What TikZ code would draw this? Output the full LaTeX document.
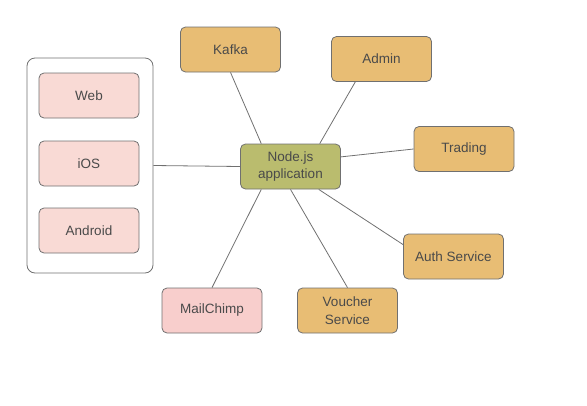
\documentclass[tikz,border=0pt]{standalone}
\usepackage{fontspec}
\setmainfont{Liberation Sans}
\usetikzlibrary{calc}

\definecolor{boxorange}{HTML}{E8BD74}
\definecolor{boxpink}{HTML}{F9DAD5}
\definecolor{mailpink}{HTML}{F8CECC}
\definecolor{appolive}{HTML}{BABC6E}
\definecolor{edgegray}{HTML}{707070}
\definecolor{textgray}{HTML}{4A4A4A}

\tikzset{
	box/.style={draw=edgegray, line width=0.8pt, rounded corners=5pt,
		minimum width=100pt, minimum height=45pt, align=center,
		text=textgray, font=\fontsize{13.5}{17.5}\selectfont},
	service/.style={box, fill=boxorange},
	client/.style={box, fill=boxpink},
	link/.style={draw=edgegray, line width=0.8pt}
}

\begin{document}
\begin{tikzpicture}[x=1pt,y=-1pt]
		\useasboundingbox (0,0) rectangle (587,405);
		\node[draw=edgegray, line width=0.8pt, rounded corners=8pt,
			minimum width=126pt, minimum height=215pt] (clients) at (90,165.5) {};
		\node[client] (web) at (89,95.5) {Web};
		\node[client] (ios) at (89,163.5) {iOS};
		\node[client] (android) at (89,230.5) {Android};
		\node[box, fill=appolive] (app) at (290.5,166.5) {Node.js\\application};
		\node[service] (kafka) at (230.5,49.5) {Kafka};
		\node[service] (admin) at (381.5,59) {Admin};
		\node[service] (trading) at (464,149) {Trading};
		\node[service] (auth) at (453.5,256.5) {Auth Service};
		\node[service] (voucher) at (347.5,310.5) {Voucher\\Service};
		\node[box, fill=mailpink] (mailchimp) at (212,310.5) {MailChimp};
		\draw[link] (clients.east) -- (app.west);
		\draw[link] (kafka.south) -- ($(app.north west)!0.21!(app.north east)$);
		\draw[link] ($(admin.south west)!0.24!(admin.south east)$) -- ($(app.north west)!0.79!(app.north east)$);
		\draw[link] (trading.west) -- ($(app.north east)!0.29!(app.south east)$);
		\draw[link] ($(auth.north west)!0.24!(auth.south west)$) -- ($(app.south west)!0.78!(app.south east)$);
		\draw[link] (voucher.north) -- (app.south);
		\draw[link] (mailchimp.north) -- ($(app.south west)!0.21!(app.south east)$);
	\end{tikzpicture}
\end{document}
